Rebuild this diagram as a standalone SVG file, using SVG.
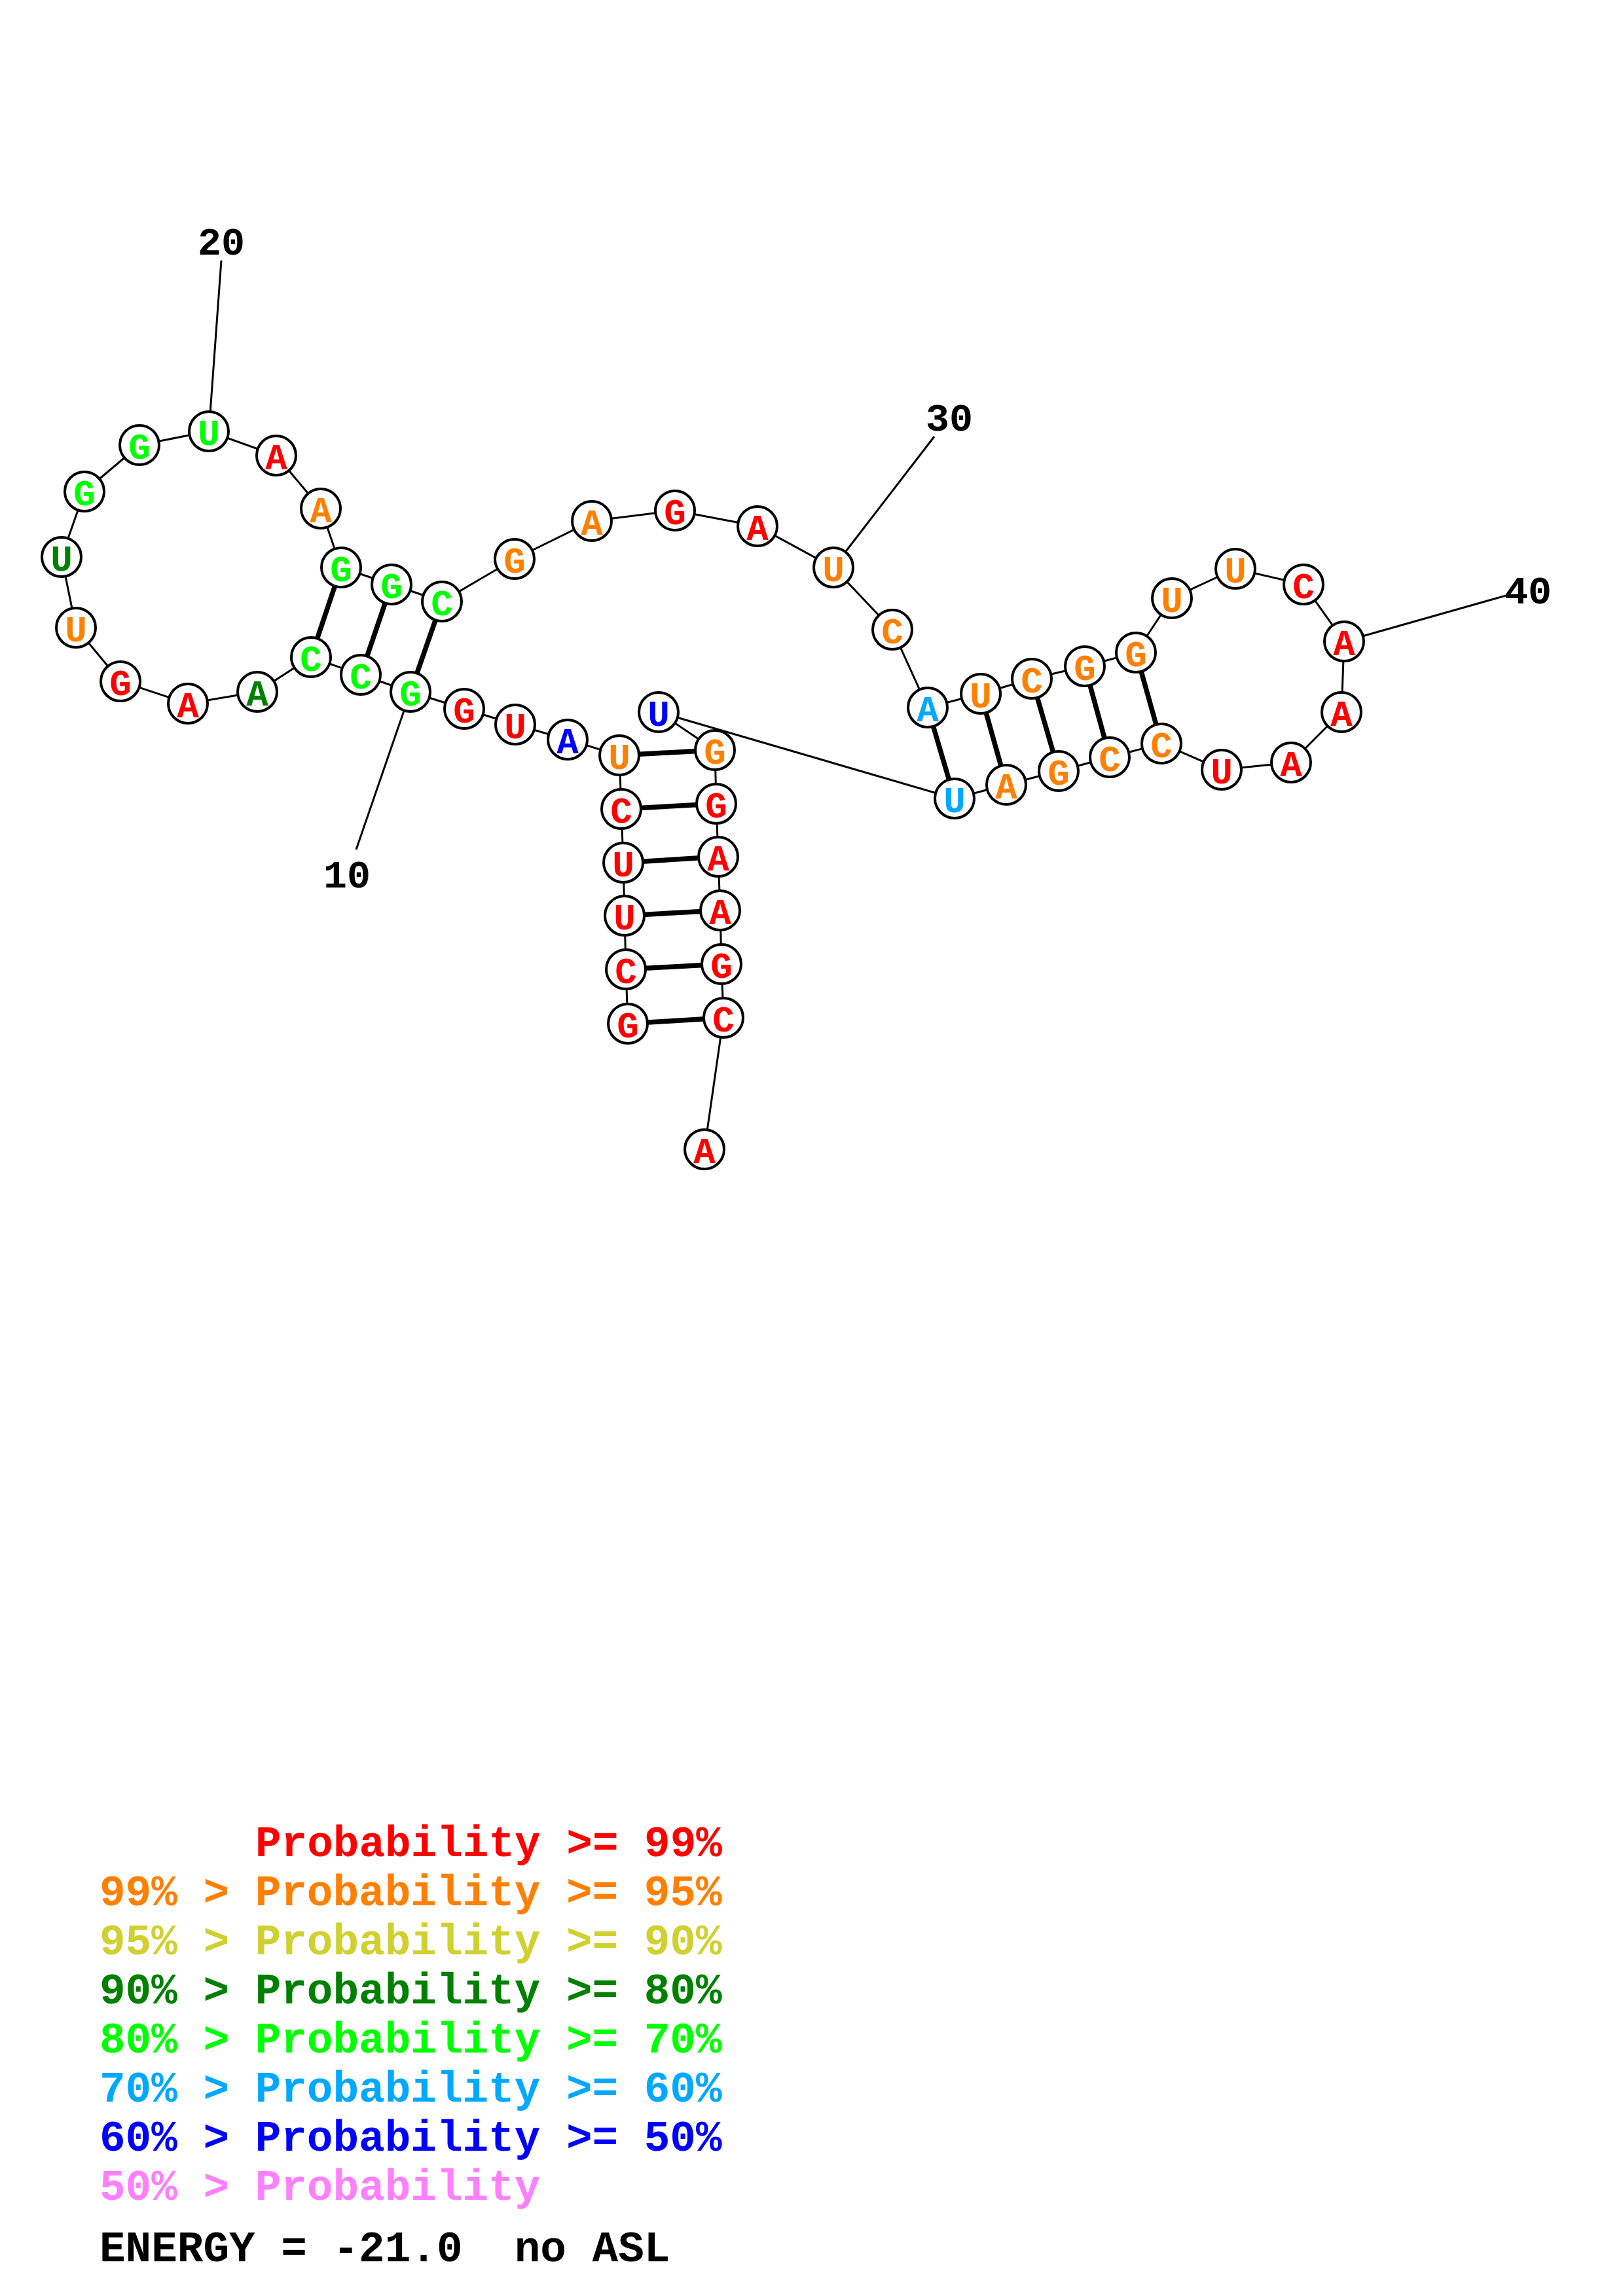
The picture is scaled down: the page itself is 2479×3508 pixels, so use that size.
<svg xmlns="http://www.w3.org/2000/svg" width="2479" height="3508" viewBox="0 0 2479 3508">
<style>
.bg{fill:#fff}
.bb{stroke:#000;stroke-width:3;fill:none}
.bp{stroke:#000;stroke-width:7.5;fill:none}
.nd circle{fill:#fff;stroke:#000;stroke-width:4}
.nd text{font-family:"Liberation Mono",monospace;font-weight:bold;font-size:56px;text-anchor:middle}
.lb{font-family:"Liberation Mono",monospace;font-weight:bold;font-size:60px;text-anchor:middle;fill:#000}
.lg{font-family:"Liberation Mono",monospace;font-weight:bold;font-size:66px;white-space:pre}
.r{fill:#FF0000}.o{fill:#FF8000}.y{fill:#D0D030}.dg{fill:#008000}.lm{fill:#00FF00}.lb2{fill:#00A8FF}.b{fill:#0000FF}.p{fill:#FF80FF}.k{fill:#000}
</style>
<rect class="bg" x="0" y="0" width="2479" height="3508"/>
<g id="connectors">
<line class="bb" x1="319" y1="659" x2="338" y2="398"/>
<line class="bb" x1="627" y1="1057" x2="544" y2="1298"/>
<line class="bb" x1="1273" y1="867" x2="1427" y2="667"/>
<line class="bb" x1="2053" y1="980" x2="2300" y2="910"/>
<polyline class="bb" points="959,1564 956,1481 954,1399 952,1318 949,1236 946,1154 867,1130 787,1107 709,1083 627,1057 551,1031 475,1004 393,1057 287,1075 184,1041 116,959 94,851 129,751 213,680 319,659 422,696 490,777 521,867 598,893 675,919 786,854 904,796 1031,780 1157,804 1273,867 1363,962 1417,1081 1498,1060 1576,1037 1657,1018 1735,997 1790,914 1887,869 1991,893 2053,980 2049,1088 1972,1165 1866,1176 1774,1136 1695,1157 1617,1178 1537,1199 1458,1220 1006,1088 1092,1146 1094,1228 1097,1309 1100,1391 1102,1473 1105,1555 1076,1756"/>
<line class="bp" x1="959" y1="1564" x2="1105" y2="1555"/>
<line class="bp" x1="956" y1="1481" x2="1102" y2="1473"/>
<line class="bp" x1="954" y1="1399" x2="1100" y2="1391"/>
<line class="bp" x1="952" y1="1318" x2="1097" y2="1309"/>
<line class="bp" x1="949" y1="1236" x2="1094" y2="1228"/>
<line class="bp" x1="946" y1="1154" x2="1092" y2="1146"/>
<line class="bp" x1="627" y1="1057" x2="675" y2="919"/>
<line class="bp" x1="551" y1="1031" x2="598" y2="893"/>
<line class="bp" x1="475" y1="1004" x2="521" y2="867"/>
<line class="bp" x1="1417" y1="1081" x2="1458" y2="1220"/>
<line class="bp" x1="1498" y1="1060" x2="1537" y2="1199"/>
<line class="bp" x1="1576" y1="1037" x2="1617" y2="1178"/>
<line class="bp" x1="1657" y1="1018" x2="1695" y2="1157"/>
<line class="bp" x1="1735" y1="997" x2="1774" y2="1136"/>
</g>
<g id="n1" class="nd"><circle cx="959" cy="1564" r="30"/><text class="r" x="959" y="1585">G</text></g>
<g id="n2" class="nd"><circle cx="956" cy="1481" r="30"/><text class="r" x="956" y="1502">C</text></g>
<g id="n3" class="nd"><circle cx="954" cy="1399" r="30"/><text class="r" x="954" y="1420">U</text></g>
<g id="n4" class="nd"><circle cx="952" cy="1318" r="30"/><text class="r" x="952" y="1339">U</text></g>
<g id="n5" class="nd"><circle cx="949" cy="1236" r="30"/><text class="r" x="949" y="1257">C</text></g>
<g id="n6" class="nd"><circle cx="946" cy="1154" r="30"/><text class="o" x="946" y="1175">U</text></g>
<g id="n7" class="nd"><circle cx="867" cy="1130" r="30"/><text class="b" x="867" y="1151">A</text></g>
<g id="n8" class="nd"><circle cx="787" cy="1107" r="30"/><text class="r" x="787" y="1128">U</text></g>
<g id="n9" class="nd"><circle cx="709" cy="1083" r="30"/><text class="r" x="709" y="1104">G</text></g>
<g id="n10" class="nd"><circle cx="627" cy="1057" r="30"/><text class="lm" x="627" y="1078">G</text></g>
<g id="n11" class="nd"><circle cx="551" cy="1031" r="30"/><text class="lm" x="551" y="1052">C</text></g>
<g id="n12" class="nd"><circle cx="475" cy="1004" r="30"/><text class="lm" x="475" y="1025">C</text></g>
<g id="n13" class="nd"><circle cx="393" cy="1057" r="30"/><text class="dg" x="393" y="1078">A</text></g>
<g id="n14" class="nd"><circle cx="287" cy="1075" r="30"/><text class="r" x="287" y="1096">A</text></g>
<g id="n15" class="nd"><circle cx="184" cy="1041" r="30"/><text class="r" x="184" y="1062">G</text></g>
<g id="n16" class="nd"><circle cx="116" cy="959" r="30"/><text class="o" x="116" y="980">U</text></g>
<g id="n17" class="nd"><circle cx="94" cy="851" r="30"/><text class="dg" x="94" y="872">U</text></g>
<g id="n18" class="nd"><circle cx="129" cy="751" r="30"/><text class="lm" x="129" y="772">G</text></g>
<g id="n19" class="nd"><circle cx="213" cy="680" r="30"/><text class="lm" x="213" y="701">G</text></g>
<g id="n20" class="nd"><circle cx="319" cy="659" r="30"/><text class="lm" x="319" y="680">U</text></g>
<g id="n21" class="nd"><circle cx="422" cy="696" r="30"/><text class="r" x="422" y="717">A</text></g>
<g id="n22" class="nd"><circle cx="490" cy="777" r="30"/><text class="o" x="490" y="798">A</text></g>
<g id="n23" class="nd"><circle cx="521" cy="867" r="30"/><text class="lm" x="521" y="888">G</text></g>
<g id="n24" class="nd"><circle cx="598" cy="893" r="30"/><text class="lm" x="598" y="914">G</text></g>
<g id="n25" class="nd"><circle cx="675" cy="919" r="30"/><text class="lm" x="675" y="940">C</text></g>
<g id="n26" class="nd"><circle cx="786" cy="854" r="30"/><text class="o" x="786" y="875">G</text></g>
<g id="n27" class="nd"><circle cx="904" cy="796" r="30"/><text class="o" x="904" y="817">A</text></g>
<g id="n28" class="nd"><circle cx="1031" cy="780" r="30"/><text class="r" x="1031" y="801">G</text></g>
<g id="n29" class="nd"><circle cx="1157" cy="804" r="30"/><text class="r" x="1157" y="825">A</text></g>
<g id="n30" class="nd"><circle cx="1273" cy="867" r="30"/><text class="o" x="1273" y="888">U</text></g>
<g id="n31" class="nd"><circle cx="1363" cy="962" r="30"/><text class="o" x="1363" y="983">C</text></g>
<g id="n32" class="nd"><circle cx="1417" cy="1081" r="30"/><text class="lb2" x="1417" y="1102">A</text></g>
<g id="n33" class="nd"><circle cx="1498" cy="1060" r="30"/><text class="o" x="1498" y="1081">U</text></g>
<g id="n34" class="nd"><circle cx="1576" cy="1037" r="30"/><text class="o" x="1576" y="1058">C</text></g>
<g id="n35" class="nd"><circle cx="1657" cy="1018" r="30"/><text class="o" x="1657" y="1039">G</text></g>
<g id="n36" class="nd"><circle cx="1735" cy="997" r="30"/><text class="o" x="1735" y="1018">G</text></g>
<g id="n37" class="nd"><circle cx="1790" cy="914" r="30"/><text class="o" x="1790" y="935">U</text></g>
<g id="n38" class="nd"><circle cx="1887" cy="869" r="30"/><text class="o" x="1887" y="890">U</text></g>
<g id="n39" class="nd"><circle cx="1991" cy="893" r="30"/><text class="r" x="1991" y="914">C</text></g>
<g id="n40" class="nd"><circle cx="2053" cy="980" r="30"/><text class="r" x="2053" y="1001">A</text></g>
<g id="n41" class="nd"><circle cx="2049" cy="1088" r="30"/><text class="r" x="2049" y="1109">A</text></g>
<g id="n42" class="nd"><circle cx="1972" cy="1165" r="30"/><text class="r" x="1972" y="1186">A</text></g>
<g id="n43" class="nd"><circle cx="1866" cy="1176" r="30"/><text class="r" x="1866" y="1197">U</text></g>
<g id="n44" class="nd"><circle cx="1774" cy="1136" r="30"/><text class="o" x="1774" y="1157">C</text></g>
<g id="n45" class="nd"><circle cx="1695" cy="1157" r="30"/><text class="o" x="1695" y="1178">C</text></g>
<g id="n46" class="nd"><circle cx="1617" cy="1178" r="30"/><text class="o" x="1617" y="1199">G</text></g>
<g id="n47" class="nd"><circle cx="1537" cy="1199" r="30"/><text class="o" x="1537" y="1220">A</text></g>
<g id="n48" class="nd"><circle cx="1458" cy="1220" r="30"/><text class="lb2" x="1458" y="1241">U</text></g>
<g id="n49" class="nd"><circle cx="1006" cy="1088" r="30"/><text class="b" x="1006" y="1109">U</text></g>
<g id="n50" class="nd"><circle cx="1092" cy="1146" r="30"/><text class="o" x="1092" y="1167">G</text></g>
<g id="n51" class="nd"><circle cx="1094" cy="1228" r="30"/><text class="r" x="1094" y="1249">G</text></g>
<g id="n52" class="nd"><circle cx="1097" cy="1309" r="30"/><text class="r" x="1097" y="1330">A</text></g>
<g id="n53" class="nd"><circle cx="1100" cy="1391" r="30"/><text class="r" x="1100" y="1412">A</text></g>
<g id="n54" class="nd"><circle cx="1102" cy="1473" r="30"/><text class="r" x="1102" y="1494">G</text></g>
<g id="n55" class="nd"><circle cx="1105" cy="1555" r="30"/><text class="r" x="1105" y="1576">C</text></g>
<g id="n56" class="nd"><circle cx="1076" cy="1756" r="30"/><text class="r" x="1076" y="1777">A</text></g>
<g id="labels">
<text class="lb" x="338" y="389">20</text>
<text class="lb" x="530" y="1356">10</text>
<text class="lb" x="1450" y="658">30</text>
<text class="lb" x="2334" y="922">40</text>
</g>
<g id="legend">
<text class="lg r" x="390" y="2836">Probability &gt;= 99%</text>
<text class="lg o" x="152" y="2911">99% &gt; Probability &gt;= 95%</text>
<text class="lg y" x="152" y="2986">95% &gt; Probability &gt;= 90%</text>
<text class="lg dg" x="152" y="3061">90% &gt; Probability &gt;= 80%</text>
<text class="lg lm" x="152" y="3136">80% &gt; Probability &gt;= 70%</text>
<text class="lg lb2" x="152" y="3211">70% &gt; Probability &gt;= 60%</text>
<text class="lg b" x="152" y="3286">60% &gt; Probability &gt;= 50%</text>
<text class="lg p" x="152" y="3361">50% &gt; Probability</text>
<text class="lg k" x="152" y="3455">ENERGY = -21.0  no ASL</text>
</g>
</svg>
